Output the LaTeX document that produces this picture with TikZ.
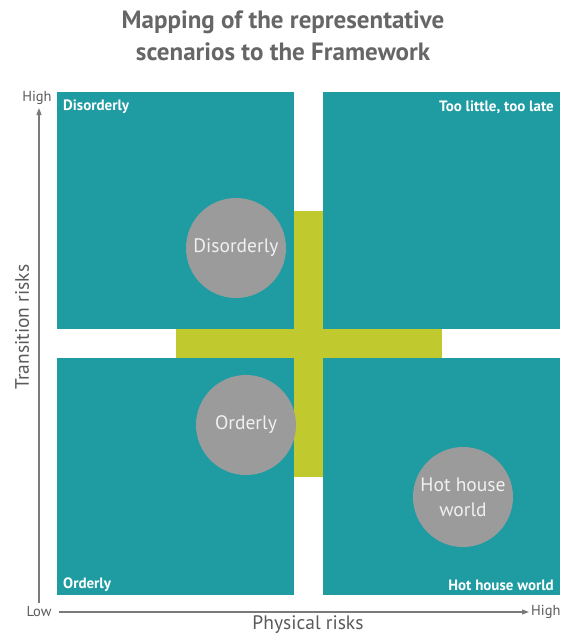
\documentclass[tikz,border=0pt]{standalone}
\usepackage{fontspec}
\setmainfont{PT Sans}
\usetikzlibrary{arrows.meta}
\definecolor{teal1}{HTML}{1F9BA2}
\definecolor{lime1}{HTML}{C0C92E}
\definecolor{circ1}{HTML}{9B9B9B}
\definecolor{title1}{HTML}{666666}
\definecolor{axis1}{HTML}{7A7A7A}
\definecolor{axtext}{HTML}{5A5A5A}
\tikzset{
  quad/.style={fill=teal1, inner sep=0pt, anchor=north west, minimum width=237pt, minimum height=237pt},
  bar/.style={fill=lime1, draw=none},
  scen/.style={circle, fill=circ1, minimum size=100pt, inner sep=0pt, text=white!94!black, font=\fontsize{19.5}{25}\selectfont, align=center},
  qlabel/.style={text=white, font=\bfseries\fontsize{15}{17}\selectfont, inner sep=0pt},
  axline/.style={draw=axis1, line width=1.1pt, -{Triangle[length=7pt,width=5pt]}},
  axlab/.style={text=axtext, font=\fontsize{14.5}{16}\selectfont, inner sep=0pt},
  axname/.style={text=axtext, font=\fontsize{19.5}{21}\selectfont, inner sep=0pt}
}
\begin{document}
\begin{tikzpicture}[x=1pt,y=-1pt]
\useasboundingbox (0,0) rectangle (561,635);
% title
\node[text=title1, font=\bfseries\fontsize{25}{32}\selectfont, align=center] (title) at (283,36) {Mapping of the representative\\scenarios to the Framework};
% quadrants
\node[quad] (tl) at (57,92) {};
\node[quad] (tr) at (323,92) {};
\node[quad] (bl) at (57,358) {};
\node[quad] (br) at (323,358) {};
% cross
\path[bar] (176,329) rectangle (442,358);
\path[bar] (294,211) rectangle (323,477);
% quadrant labels
\node[qlabel, anchor=west] (ltl) at (63,107) {Disorderly};
\node[qlabel, anchor=east] (ltr) at (554,107) {Too little, too late};
\node[qlabel, anchor=west] (lbl) at (63,585) {Orderly};
\node[qlabel, anchor=east] (lbr) at (554,585) {Hot house world};
% scenario circles
\node[scen] (c1) at (236,248) {Disorderly};
\node[scen] (c2) at (246,425) {Orderly};
\node[scen] (c3) at (463,497) {Hot house\\world};
% axes
\coordinate (vstart) at (39,603);
\coordinate (vend) at (39,108);
\coordinate (hstart) at (59,612);
\coordinate (hend) at (529,612);
\draw[axline] (vstart) -- (vend);
\draw[axline] (hstart) -- (hend);
\node[axlab] (high1) at (37,98) {High};
\node[axlab] (low) at (39,612) {Low};
\node[axlab, anchor=west] (high2) at (531,612) {High};
\node[axname, rotate=90] (yname) at (22,327) {Transition risks};
\node[axname] (xname) at (308,625) {Physical risks};
\end{tikzpicture}
\end{document}
